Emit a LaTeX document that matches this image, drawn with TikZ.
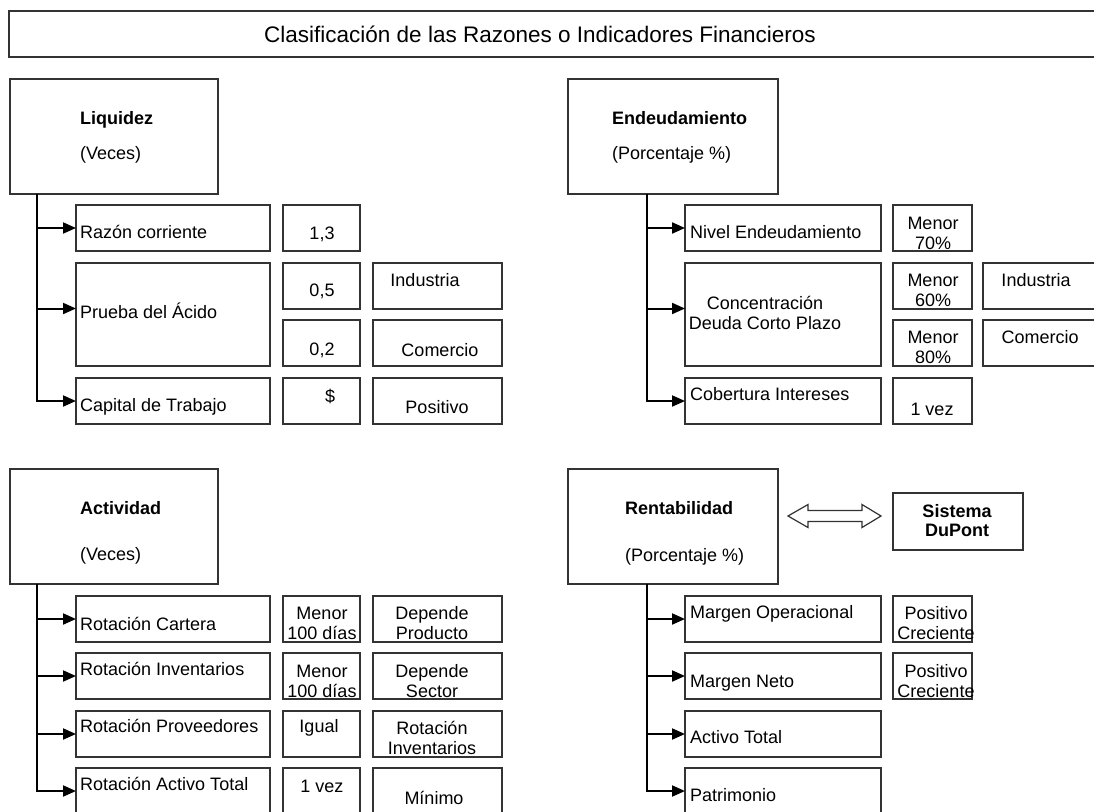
\documentclass[tikz,border=0pt]{standalone}
\usepackage{fontspec}
\setmainfont{Liberation Sans}
\usetikzlibrary{arrows.meta}

\begin{document}
\begin{tikzpicture}[
    x=1pt, y=-1pt,
    box/.style={draw=black!80, line width=1.2pt, anchor=north west, inner sep=0pt, outer sep=0pt},
    group/.style={box, minimum width=#1, minimum height=115pt},
    cell/.style={box, minimum width=#1, minimum height=46pt},
    lbl/.style={anchor=west, inner sep=0pt, text height=13pt, text depth=4pt, font=\fontsize{18pt}{20pt}\selectfont},
    hd/.style={lbl, font=\fontsize{18pt}{20pt}\selectfont\bfseries},
    val/.style={align=center, inner sep=0pt, font=\fontsize{18pt}{20pt}\selectfont},
    link/.style={line width=2pt, -{Triangle[length=13pt, width=11pt]}},
]
\clip (0,0) rectangle (1094,811);
\fill[white] (0,0) rectangle (1094,811);

\node[box, minimum width=1110pt, minimum height=46pt] (title) at (9,11) {};
\node[val, font=\fontsize{22.5pt}{26pt}\selectfont] (title-t) at (540,34) {Clasificación de las Razones o Indicadores Financieros};

% Liquidez
\node[group=208pt] (liq) at (10,79) {};
\node[hd] (liq-t) at (80,120) {Liquidez};
\node[lbl] (liq-u) at (80,155) {(Veces)};
\node[cell=194pt] (razon) at (76,205) {};
\node[cell=77pt] (razon-v) at (283,205) {};
\node[box, minimum width=194pt, minimum height=103pt] (prueba) at (76,263) {};
\node[cell=77pt] (prueba-v1) at (283,263) {};
\node[cell=77pt] (prueba-v2) at (283,320) {};
\node[cell=129pt] (prueba-c1) at (373,263) {};
\node[cell=129pt] (prueba-c2) at (373,320) {};
\node[cell=194pt] (capital) at (76,378) {};
\node[cell=77pt] (capital-v) at (283,378) {};
\node[cell=129pt] (capital-c) at (373,378) {};
\node[lbl] (razon-t) at (80,234) {Razón corriente};
\node[val] (razon-vt) at (322,234) {1,3};
\node[lbl] (prueba-t) at (80,314) {Prueba del Ácido};
\node[val] (prueba-v1t) at (322,291) {0,5};
\node[val] (prueba-v2t) at (322,350) {0,2};
\node[val] (prueba-c1t) at (425,280) {Industria};
\node[val] (prueba-c2t) at (440,350) {Comercio};
\node[lbl] (capital-t) at (80,407) {Capital de Trabajo};
\node[val] (capital-vt) at (330,396) {\$};
\node[val] (capital-ct) at (437,407) {Positivo};

\draw[link] ([xshift=27pt]liq.south west) |- (razon.west);
\draw[link] ([xshift=27pt]liq.south west) |- ([yshift=6pt]prueba.west);
\draw[link] ([xshift=27pt]liq.south west) |- (capital.west);

% Endeudamiento
\node[group=210pt] (endeu) at (568,79) {};
\node[hd] (endeu-t) at (612,120) {Endeudamiento};
\node[lbl] (endeu-u) at (612,155) {(Porcentaje \%)};
\node[cell=196pt] (nivel) at (685,205) {};
\node[cell=79pt] (nivel-v) at (893,205) {};
\node[box, minimum width=196pt, minimum height=103pt] (conc) at (685,263) {};
\node[cell=79pt] (conc-v1) at (893,263) {};
\node[cell=79pt] (conc-v2) at (893,320) {};
\node[cell=130pt] (conc-c1) at (983,263) {};
\node[cell=130pt] (conc-c2) at (983,320) {};
\node[cell=196pt] (cob) at (685,378) {};
\node[cell=79pt] (cob-v) at (893,378) {};
\node[lbl] (nivel-t) at (690,234) {Nivel Endeudamiento};
\node[val] (nivel-vt) at (933,233) {Menor\\70\%};
\node[val] (conc-t) at (765,313) {Concentración\\Deuda Corto Plazo};
\node[val] (conc-v1t) at (933,290) {Menor\\60\%};
\node[val] (conc-v2t) at (933,347) {Menor\\80\%};
\node[val] (conc-c1t) at (1036,280) {Industria};
\node[val] (conc-c2t) at (1040,337) {Comercio};
\node[lbl] (cob-t) at (690,396) {Cobertura Intereses};
\node[val] (cob-vt) at (932,409) {1 vez};

\draw[link] ([xshift=79pt]endeu.south west) |- (nivel.west);
\draw[link] ([xshift=79pt]endeu.south west) |- ([yshift=6pt]conc.west);
\draw[link] ([xshift=79pt]endeu.south west) |- (cob.west);

% Actividad
\node[group=208pt] (act) at (10,469) {};
\node[hd] (act-t) at (80,510) {Actividad};
\node[lbl] (act-u) at (80,556) {(Veces)};
\node[cell=194pt] (cart) at (76,596) {};
\node[cell=77pt] (cart-v) at (283,596) {};
\node[cell=129pt] (cart-c) at (373,596) {};
\node[cell=194pt] (inv) at (76,653) {};
\node[cell=77pt] (inv-v) at (283,653) {};
\node[cell=129pt] (inv-c) at (373,653) {};
\node[cell=194pt] (prov) at (76,711) {};
\node[cell=77pt] (prov-v) at (283,711) {};
\node[cell=129pt] (prov-c) at (373,711) {};
\node[cell=194pt] (acttot) at (76,768) {};
\node[cell=77pt] (acttot-v) at (283,768) {};
\node[cell=129pt] (acttot-c) at (373,768) {};
\node[lbl] (cart-t) at (80,626) {Rotación Cartera};
\node[val] (cart-vt) at (322,623) {Menor\\100 días};
\node[val] (cart-ct) at (432,623) {Depende\\Producto};
\node[lbl] (inv-t) at (80,671) {Rotación Inventarios};
\node[val] (inv-vt) at (322,681) {Menor\\100 días};
\node[val] (inv-ct) at (432,681) {Depende\\Sector};
\node[lbl] (prov-t) at (80,728) {Rotación Proveedores};
\node[val] (prov-vt) at (319,728) {Igual};
\node[val] (prov-ct) at (432,738) {Rotación\\Inventarios};
\node[lbl] (acttot-t) at (80,786) {Rotación Activo Total};
\node[val] (acttot-vt) at (322,786) {1 vez};
\node[val] (acttot-ct) at (434,798) {Mínimo};

\draw[link] ([xshift=27pt]act.south west) |- (cart.west);
\draw[link] ([xshift=27pt]act.south west) |- (inv.west);
\draw[link] ([xshift=27pt]act.south west) |- (prov.west);
\draw[link] ([xshift=27pt]act.south west) |- (acttot.west);

% Rentabilidad
\node[group=210pt] (rent) at (568,469) {};
\node[hd] (rent-t) at (625,510) {Rentabilidad};
\node[lbl] (rent-u) at (625,557) {(Porcentaje \%)};
\node[box, minimum width=130pt, minimum height=57pt] (dupont) at (893,493) {};
\node[val, font=\fontsize{18pt}{19pt}\selectfont\bfseries] (dupont-t) at (957,521) {Sistema\\DuPont};
\draw[draw=black!80, line width=1.2pt, line join=miter]
    (788,516) -- (808,504.5) -- (808,510.5) -- (862,510.5) -- (862,504.5) -- (881,516)
    -- (862,527.5) -- (862,521.5) -- (808,521.5) -- (808,527.5) -- cycle;
\node[cell=196pt] (mop) at (685,596) {};
\node[cell=79pt] (mop-v) at (893,596) {};
\node[cell=196pt] (mneto) at (685,653) {};
\node[cell=79pt] (mneto-v) at (893,653) {};
\node[cell=196pt] (atot) at (685,711) {};
\node[cell=196pt] (patr) at (685,768) {};
\node[lbl] (mop-t) at (690,614) {Margen Operacional};
\node[val] (mop-vt) at (936,623) {Positivo\\Creciente};
\node[lbl] (mneto-t) at (690,683) {Margen Neto};
\node[val] (mneto-vt) at (936,681) {Positivo\\Creciente};
\node[lbl] (atot-t) at (690,739) {Activo Total};
\node[lbl] (patr-t) at (690,797) {Patrimonio};

\draw[link] ([xshift=79pt]rent.south west) |- (mop.west);
\draw[link] ([xshift=79pt]rent.south west) |- (mneto.west);
\draw[link] ([xshift=79pt]rent.south west) |- (atot.west);
\draw[link] ([xshift=79pt]rent.south west) |- (patr.west);

\end{tikzpicture}
\end{document}
